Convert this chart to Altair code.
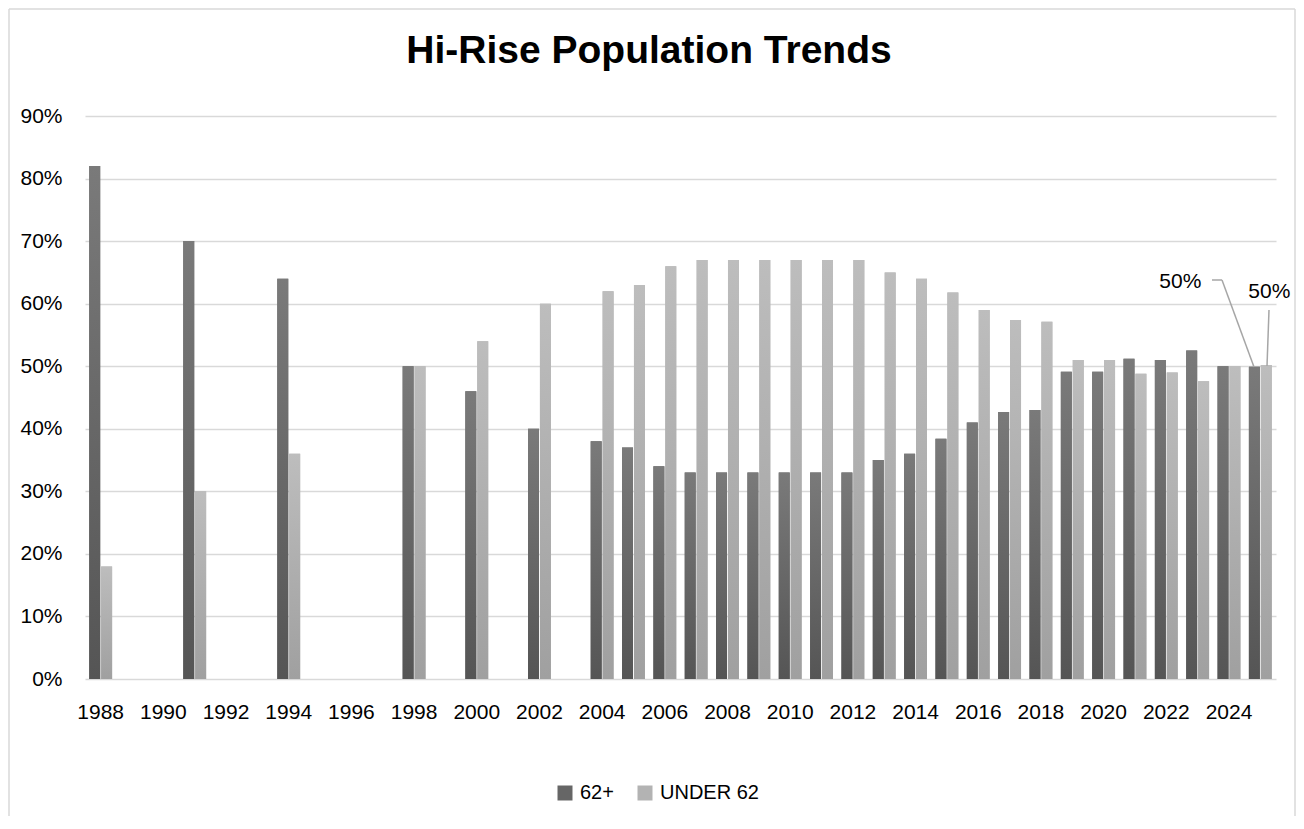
import altair as alt
import pandas as pd

# ---------------- data ----------------
all_years = list(range(1988, 2026))
tick_years = list(range(1988, 2025, 2))
bar_years = [1988, 1991, 1994, 1998, 2000, 2002] + list(range(2004, 2026))
series_names = ["62+", "UNDER 62"]
pct_62_plus = [82, 70, 64, 50, 46, 40, 38, 37, 34, 33, 33, 33, 33, 33, 33, 35, 36,
               38.4, 41, 42.7, 43, 49.1, 49.1, 51.2, 51, 52.5, 50, 49.9]
pct_under_62 = [18, 30, 36, 50, 54, 60, 62, 63, 66, 67, 67, 67, 67, 67, 67, 65, 64,
                61.8, 59, 57.4, 57.1, 51, 51, 48.8, 49, 47.6, 50, 50.2]
y_ticks = [0, 10, 20, 30, 40, 50, 60, 70, 80, 90]
chart_title = "Hi-Rise Population Trends"

rows = []
for yr, a, b in zip(bar_years, pct_62_plus, pct_under_62):
    rows.append({"year": yr, "series": series_names[0], "value": a})
    rows.append({"year": yr, "series": series_names[1], "value": b})
df = pd.DataFrame(rows)

FONT = "Liberation Sans"
W, H = 1191, 563

x_enc = alt.X(
    "year:O",
    scale=alt.Scale(domain=all_years, paddingInner=0.27, paddingOuter=0.135),
    axis=alt.Axis(values=tick_years, title=None, labelAngle=0, ticks=False,
                  domain=False, grid=False, labelFontSize=21, labelFont=FONT,
                  labelColor="#000000", labelPadding=22),
)
xoff_enc = alt.XOffset("series:N", scale=alt.Scale(domain=series_names, paddingInner=0.08))
y_enc = alt.Y(
    "value:Q",
    scale=alt.Scale(domain=[0, 90], nice=False, zero=True),
    axis=alt.Axis(values=y_ticks, labelExpr="datum.value + '%'", title=None,
                  ticks=False, domain=False, grid=True, gridColor="#d9d9d9",
                  gridWidth=1.3, labelFontSize=21, labelFont=FONT,
                  labelColor="#000000", labelPadding=23),
)

grad_dark = alt.Gradient(
    gradient="linear", x1=0, x2=0, y1=0, y2=1,
    stops=[alt.GradientStop(color="#7a7a7a", offset=0),
           alt.GradientStop(color="#555555", offset=1)],
)
grad_light = alt.Gradient(
    gradient="linear", x1=0, x2=0, y1=0, y2=1,
    stops=[alt.GradientStop(color="#bdbdbd", offset=0),
           alt.GradientStop(color="#a0a0a0", offset=1)],
)

base = alt.Chart(df)

legend_bars = base.mark_bar().encode(
    x=x_enc, xOffset=xoff_enc, y=y_enc,
    color=alt.Color(
        "series:N",
        scale=alt.Scale(domain=series_names, range=["#666666", "#b3b3b3"]),
        legend=alt.Legend(orient="none", legendX=470, legendY=667,
                          direction="horizontal", title=None, symbolType="square",
                          symbolSize=225, symbolStrokeWidth=0, labelFontSize=20,
                          labelFont=FONT, labelColor="#000000", labelOffset=5,
                          columnPadding=21, padding=0),
    ),
)

dark_bars = base.transform_filter(alt.datum.series == series_names[0]).mark_bar(
    color=grad_dark).encode(x=x_enc, xOffset=xoff_enc, y=y_enc)
light_bars = base.transform_filter(alt.datum.series == series_names[1]).mark_bar(
    color=grad_light).encode(x=x_enc, xOffset=xoff_enc, y=y_enc)

last = alt.datum.year == bar_years[-1]
lbl_dark = base.transform_filter(last & (alt.datum.series == series_names[0])).transform_calculate(
    lab="format(datum.value, '.0f') + '%'").mark_text(
    font=FONT, fontSize=21, color="#000000", dx=-74, dy=-79, baseline="alphabetic",
    align="center").encode(x=x_enc, xOffset=xoff_enc, y=y_enc, text="lab:N")
lbl_light = base.transform_filter(last & (alt.datum.series == series_names[1])).transform_calculate(
    lab="format(datum.value, '.0f') + '%'").mark_text(
    font=FONT, fontSize=21, color="#000000", dx=3, dy=-67, baseline="alphabetic",
    align="center").encode(x=x_enc, xOffset=xoff_enc, y=y_enc, text="lab:N")

one = alt.Data(values=[{}])
LEAD = "#a6a6a6"
lead1 = alt.Chart(one).mark_rule(color=LEAD, strokeWidth=1.5).encode(
    x=alt.value(1127), x2=alt.value(1137), y=alt.value(164), y2=alt.value(164))
lead2 = alt.Chart(one).mark_rule(color=LEAD, strokeWidth=1.5).encode(
    x=alt.value(1137), x2=alt.value(1169), y=alt.value(164), y2=alt.value(251))
lead3 = alt.Chart(one).mark_rule(color=LEAD, strokeWidth=1.5).encode(
    x=alt.value(1184), x2=alt.value(1182), y=alt.value(194), y2=alt.value(250))

title_df = pd.DataFrame({"t": [chart_title]})
title_layer = alt.Chart(title_df).mark_text(
    font=FONT, fontSize=39, fontWeight="bold", color="#000000",
    align="center", baseline="alphabetic").encode(
    x=alt.value(564), y=alt.value(-53), text="t:N")

BORDER = "#d9d9d9"
b_top = alt.Chart(one).mark_rule(color=BORDER, strokeWidth=1.5).encode(
    x=alt.value(-76), x2=alt.value(1210), y=alt.value(-107), y2=alt.value(-107))
b_left = alt.Chart(one).mark_rule(color=BORDER, strokeWidth=1.5).encode(
    x=alt.value(-76), x2=alt.value(-76), y=alt.value(-107), y2=alt.value(700))
b_right = alt.Chart(one).mark_rule(color=BORDER, strokeWidth=1.5).encode(
    x=alt.value(1210), x2=alt.value(1210), y=alt.value(-107), y2=alt.value(700))

chart = alt.layer(
    legend_bars, dark_bars, light_bars, lbl_dark, lbl_light,
    lead1, lead2, lead3, title_layer, b_top, b_left, b_right,
).properties(
    width=W, height=H,
    autosize=alt.AutoSizeParams(type="none"),
    padding={"left": 77, "top": 108, "right": 20, "bottom": 142},
).configure(
    background="white",
    view=alt.ViewConfig(stroke=None),
)

chart.save("out.html", embed_options={"renderer": "svg", "actions": False})
